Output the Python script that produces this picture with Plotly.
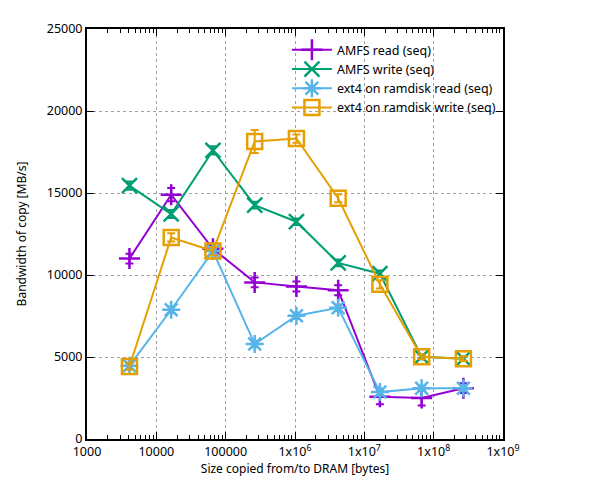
import plotly.graph_objects as go

sizes = [4096, 16384, 65536, 262144, 1048576, 4194304, 16777216, 67108864, 268435456]

amfs_read = [11000, 14900, 11600, 9550, 9300, 9070, 2570, 2500, 3100]
amfs_read_err = [300, 400, 300, 300, 300, 300, 450, 450, 300]
amfs_write = [15450, 13720, 17600, 14260, 13250, 10740, 10080, 5010, 4900]
amfs_write_err = [250, 250, 250, 200, 200, 200, 200, 150, 150]
ext4_read = [4470, 7880, 11460, 5790, 7520, 8000, 2860, 3100, 3100]
ext4_read_err = [200, 200, 200, 200, 200, 200, 200, 150, 150]
ext4_write = [4420, 12290, 11460, 18140, 18320, 14680, 9430, 5010, 4900]
ext4_write_err = [200, 250, 250, 700, 250, 250, 250, 150, 150]

series = [
    ("AMFS read (seq)", amfs_read, amfs_read_err, "#9400d3", "cross-thin-open"),
    ("AMFS write (seq)", amfs_write, amfs_write_err, "#009e73", "x-thin-open"),
    ("ext4 on ramdisk read (seq)", ext4_read, ext4_read_err, "#56b4e9", "asterisk-open"),
    ("ext4 on ramdisk write (seq)", ext4_write, ext4_write_err, "#e69f00", "square-open"),
]

xtick_vals = [1e3, 1e4, 1e5, 1e6, 1e7, 1e8, 1e9]
xtick_text = ["1000", "10000", "100000", "1x10<sup>6</sup>", "1x10<sup>7</sup>",
              "1x10<sup>8</sup>", "1x10<sup>9</sup>"]
xminor_vals = [m * 10 ** e for e in range(3, 9) for m in range(2, 10)]
ytick_vals = [0, 5000, 10000, 15000, 20000, 25000]
ytick_text = ["0", "5000", "10000", "15000", "20000", "25000"]

fig = go.Figure()
for name, vals, errs, color, sym in series:
    fig.add_trace(go.Scatter(
        x=sizes, y=vals, name=name, mode="lines+markers",
        line=dict(color=color, width=2),
        marker=dict(symbol=sym, size=15, color=color, line=dict(color=color, width=2.5)),
        error_y=dict(type="data", array=errs, visible=True, color=color, thickness=2, width=4),
    ))

font = dict(family="Noto Sans, DejaVu Sans, sans-serif", size=12.5, color="black")
fig.update_layout(
    width=598, height=475,
    margin=dict(l=75, r=103, t=12, b=44),
    plot_bgcolor="white", paper_bgcolor="white",
    font=font,
    showlegend=True,
    legend=dict(x=0.995, y=0.985, xanchor="right", yanchor="top",
                bgcolor="rgba(0,0,0,0)", font=dict(size=12.5),
                tracegroupgap=0, itemwidth=40),
)
fig.update_xaxes(
    type="log", range=[3, 9],
    tickvals=xtick_vals, ticktext=xtick_text,
    ticks="inside", ticklen=7, tickcolor="black",
    showline=True, linecolor="black", linewidth=2, mirror="ticks",
    showgrid=True, gridcolor="#a0a0a0", griddash="dot", gridwidth=1,
    minor=dict(tickvals=xminor_vals, ticks="inside", ticklen=4, tickcolor="black", showgrid=False),
    title=dict(text="Size copied from/to DRAM [bytes]", standoff=2, font=dict(size=12)),
    zeroline=False,
)
fig.update_yaxes(
    range=[0, 25000], tickvals=ytick_vals, ticktext=ytick_text,
    ticks="inside", ticklen=7, tickcolor="black",
    showline=True, linecolor="black", linewidth=2, mirror="ticks",
    showgrid=True, gridcolor="#a0a0a0", griddash="dot", gridwidth=1,
    title=dict(text="Bandwidth of copy [MB/s]", standoff=18, font=dict(size=12)),
    zeroline=False,
)
fig.write_html("out.html")
